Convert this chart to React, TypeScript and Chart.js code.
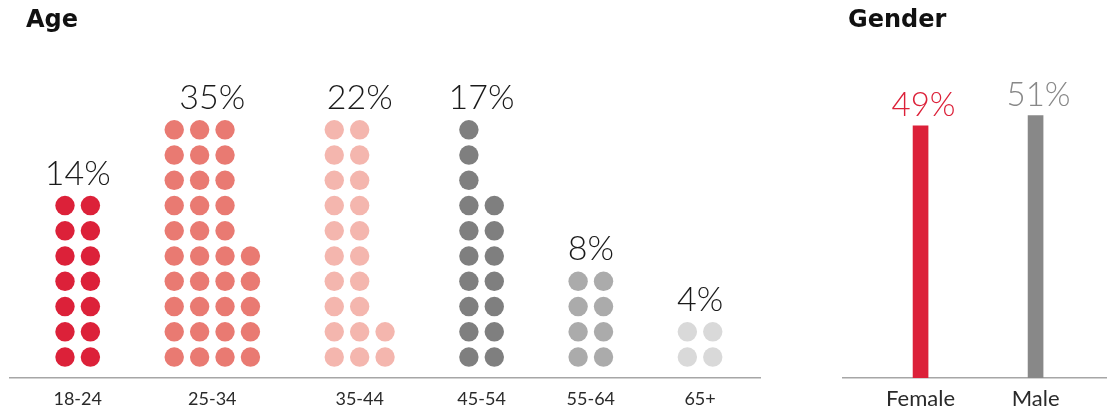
import React, { useEffect, useRef } from "react";
import { Chart, registerables } from "chart.js";

Chart.register(...registerables);

// ---- data ----
const ageGroups = ["18-24", "25-34", "35-44", "45-54", "55-64", "65+"];
const agePercent = [14, 35, 22, 17, 8, 4];
// how the dots (1 dot = 1%) are stacked, per group, column by column
const ageDotColumns = [
  [7, 7],
  [10, 10, 10, 5],
  [10, 10, 2],
  [10, 7],
  [4, 4],
  [2, 2],
];
const genderLabels = ["Female", "Male"];
const genderPercent = [49, 51];

// ---- styles ----
const ageColors = ["#dc2139", "#e97a72", "#f4b6ae", "#7f7f7f", "#ababab", "#d9d9d9"];
const genderColors = ["#dc2139", "#888888"];
const GROUP_GAP = 3.3; // gap between dot blocks, in dot-column units

function groupStarts(): number[] {
  const starts: number[] = [];
  let s = 0;
  ageDotColumns.forEach((cols) => {
    starts.push(s);
    s += cols.length - 1 + GROUP_GAP;
  });
  return starts;
}

export default function App() {
  const ageRef = useRef<HTMLCanvasElement | null>(null);
  const genderRef = useRef<HTMLCanvasElement | null>(null);

  useEffect(() => {
    const starts = groupStarts();
    const centers = starts.map((s, k) => s + (ageDotColumns[k].length - 1) / 2);

    const ageDatasets = ageDotColumns.map((cols, k) => ({
      label: ageGroups[k],
      data: cols.flatMap((h, j) =>
        Array.from({ length: h }, (_, r) => ({ x: starts[k] + j, y: r }))
      ),
      backgroundColor: ageColors[k],
      borderWidth: 0,
      pointRadius: 9.7,
      pointHoverRadius: 9.7,
    }));

    const ageLabelPlugin = {
      id: "ageLabels",
      afterDatasetsDraw(chart: any) {
        const { ctx, scales } = chart;
        const x = scales.x;
        const y = scales.y;
        ctx.save();
        ctx.font = '300 34px Lato';
        ctx.fillStyle = "#1a1a1a";
        ctx.textAlign = "center";
        ctx.textBaseline = "alphabetic";
        agePercent.forEach((p, k) => {
          const topRow = Math.max(...ageDotColumns[k]) - 1;
          ctx.fillText(p + "%", x.getPixelForValue(centers[k]), y.getPixelForValue(topRow) - 21);
        });
        ctx.font = 'bold 24px "DejaVu Sans"';
        ctx.fillStyle = "#111";
        ctx.textAlign = "left";
        ctx.fillText("Age", 26, 27);
        ctx.restore();
      },
    };

    const ageChart = new Chart(ageRef.current as HTMLCanvasElement, {
      type: "scatter",
      data: { datasets: ageDatasets as any },
      options: {
        animation: false,
        responsive: false,
        events: [],
        layout: { padding: { top: 50, left: 10, right: 82, bottom: 0 } },
        plugins: { legend: { display: false }, tooltip: { enabled: false }, title: { display: false } },
        scales: {
          x: {
            type: "linear",
            min: -2.165,
            max: 27.36,
            grid: { display: false, drawTicks: false },
            border: { display: true, color: "#a6a6a6", width: 1.5 },
            afterBuildTicks: (s: any) => {
              s.ticks = centers.map((v) => ({ value: v }));
            },
            afterFit: (s: any) => {
              s.height = 34;
            },
            ticks: {
              callback: (_v: any, i: number) => ageGroups[i],
              font: { family: "Lato", size: 18 },
              color: "#2a2a2a",
              padding: 10,
              maxRotation: 0,
              autoSkip: false,
            },
          },
          y: { type: "linear", min: -0.83, max: 12.16, display: false },
        },
      },
      plugins: [ageLabelPlugin],
    });

    const genderLabelPlugin = {
      id: "genderLabels",
      afterDatasetsDraw(chart: any) {
        const { ctx, scales } = chart;
        const x = scales.x;
        const y = scales.y;
        ctx.save();
        ctx.font = '300 33px Lato';
        ctx.textAlign = "center";
        ctx.textBaseline = "alphabetic";
        genderPercent.forEach((p, i) => {
          ctx.fillStyle = genderColors[i];
          ctx.fillText(p + "%", x.getPixelForValue(i) + 3, y.getPixelForValue(p) - 10);
        });
        ctx.font = 'bold 24px "DejaVu Sans"';
        ctx.fillStyle = "#111";
        ctx.textAlign = "left";
        ctx.fillText("Gender", 6, 27);
        ctx.restore();
      },
    };

    const genderChart = new Chart(genderRef.current as HTMLCanvasElement, {
      type: "bar",
      data: {
        datasets: [
          {
            label: "Gender",
            data: genderPercent.map((v, i) => ({ x: i, y: v })),
            backgroundColor: genderColors,
            borderWidth: 0,
            barThickness: 15,
          } as any,
        ],
      },
      options: {
        animation: false,
        responsive: false,
        events: [],
        layout: { padding: { top: 60, left: 0, right: 0, bottom: 0 } },
        plugins: { legend: { display: false }, tooltip: { enabled: false }, title: { display: false } },
        scales: {
          x: {
            type: "linear",
            min: -0.683,
            max: 1.621,
            offset: false,
            grid: { display: false, drawTicks: false },
            border: { display: true, color: "#a6a6a6", width: 1.5 },
            afterBuildTicks: (s: any) => {
              s.ticks = genderLabels.map((_l, i) => ({ value: i }));
            },
            afterFit: (s: any) => {
              s.height = 34;
            },
            ticks: {
              callback: (_v: any, i: number) => genderLabels[i],
              font: { family: "Lato", size: 22 },
              color: "#2a2a2a",
              padding: 8,
              maxRotation: 0,
              autoSkip: false,
            },
          },
          y: { type: "linear", min: 0, max: 61.8, display: false },
        },
      },
      plugins: [genderLabelPlugin],
    });

    return () => {
      ageChart.destroy();
      genderChart.destroy();
    };
  }, []);

  return (
    <div
      style={{
        position: "fixed",
        top: 0,
        left: 0,
        width: 1107,
        height: 412,
        background: "#ffffff",
        overflow: "hidden",
      }}
    >
      <canvas
        ref={ageRef}
        width={842}
        height={412}
        style={{ position: "absolute", left: 0, top: 0, width: 842, height: 412 }}
      />
      <canvas
        ref={genderRef}
        width={265}
        height={412}
        style={{ position: "absolute", left: 842, top: 0, width: 265, height: 412 }}
      />
    </div>
  );
}
